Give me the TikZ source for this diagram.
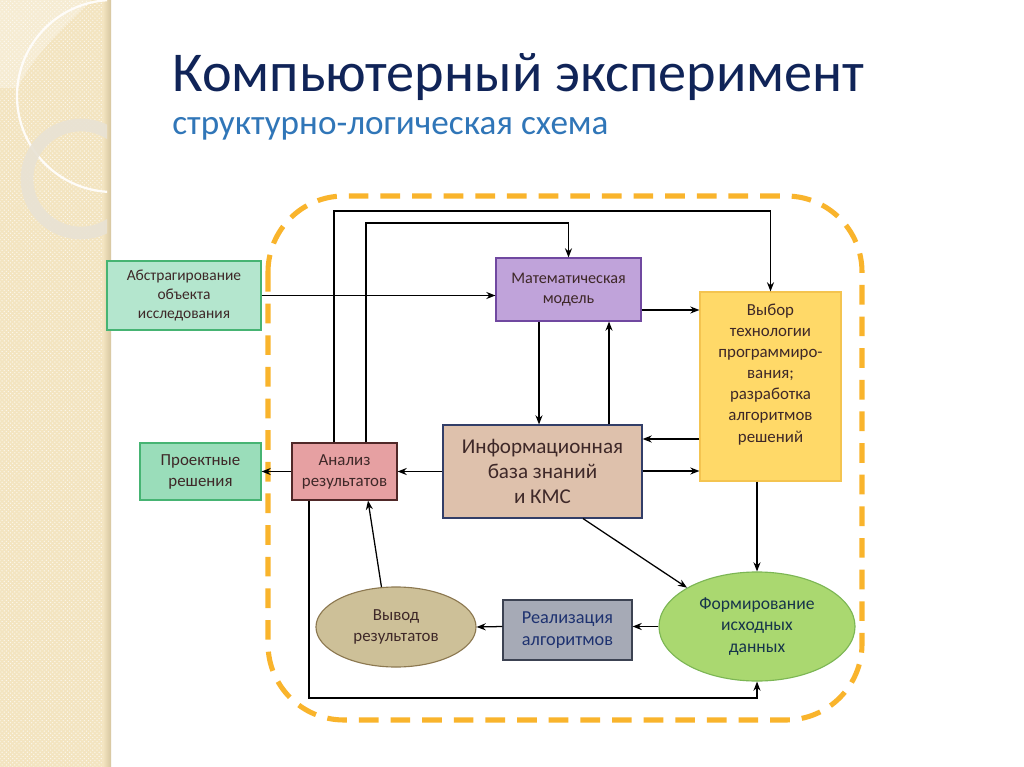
\documentclass[tikz,border=0pt]{standalone}
\usepackage{fontspec}
\setmainfont{Carlito}
\usetikzlibrary{patterns}
\usetikzlibrary{calc}
\usetikzlibrary{shapes}
\usetikzlibrary{arrows.meta}

\definecolor{strip}{RGB}{243,228,192}
\definecolor{stripdark}{RGB}{214,198,160}
\definecolor{ringgrey}{RGB}{232,226,212}
\definecolor{titleblue}{RGB}{16,36,88}
\definecolor{subblue}{RGB}{48,118,184}
\definecolor{frameorange}{RGB}{249,180,44}
\definecolor{txtdark}{RGB}{62,40,40}

\begin{document}
\begin{tikzpicture}[x=0.025cm,y=-0.025cm,>={Stealth[length=6.5pt,width=5pt]},
blokk/.style={rectangle,draw,line width=0.8pt,align=center,text=txtdark,inner sep=2pt,
 font=\fontsize{11}{13.5}\selectfont},
ovalis/.style={ellipse,draw,line width=0.8pt,align=center,text=txtdark,inner sep=1pt,
 font=\fontsize{12}{14.5}\selectfont}]
\useasboundingbox (0,0) rectangle (1024,767);
% left strip
\fill[white] (0,0) rectangle (1024,767);
\fill[strip] (0,0) rectangle (110,767);
\fill[pattern=crosshatch dots,pattern color=white!70!strip] (0,0) rectangle (106,767);
\shade[left color=strip,right color=stripdark] (103,0) rectangle (111,767);
\begin{scope}
 \clip (0,0) rectangle (107,767);
 \fill[white,opacity=.3] (0,0) -- (92,0) .. controls (60,30) and (30,60) .. (18,88) -- (0,88) -- cycle;
 \draw[white!90!strip,line width=1.6pt] (113,96) circle[radius=96];
 \draw[ringgrey,line width=9pt,opacity=.9] (81,179) circle[radius=54];
\end{scope}
% title
\node[anchor=base west,text=titleblue,font=\fontsize{40}{44}\selectfont,inner sep=0pt] (cim) at (172,92) {Компьютерный эксперимент};
\node[anchor=base west,text=subblue,font=\fontsize{25}{28}\selectfont,inner sep=0pt] (alcim) at (172,135) {структурно-логическая схема};
% frame
\draw[frameorange,line width=3.6pt,dash pattern=on 14pt off 8.5pt,rounded corners=1.9cm] (268,196) rectangle (862,720);
% blocks
\node[blokk,fill={rgb,255:red,180;green,230;blue,206},draw={rgb,255:red,70;green,180;blue,115},minimum width=3.85cm,minimum height=1.725cm] (abstr) at (184,295.5) {Абстрагирование\\объекта\\исследования};
\node[blokk,fill={rgb,255:red,192;green,163;blue,218},draw={rgb,255:red,112;green,72;blue,160},minimum width=3.625cm,minimum height=1.575cm,font=\fontsize{11.5}{14}\selectfont] (matmod) at (568.5,289.5) {Математическая\\модель};
\node[blokk,fill={rgb,255:red,255;green,217;blue,104},draw={rgb,255:red,244;green,196;blue,80},minimum width=3.525cm,minimum height=4.725cm] (vybor) at (770.5,386.5) {};
\node[align=center,text=txtdark,font=\fontsize{12}{15}\selectfont,anchor=north] (vybortxt) at (770.5,299) {Выбор\\технологии\\программиро-\\вания;\\разработка\\алгоритмов\\решений};
\node[blokk,fill={rgb,255:red,222;green,193;blue,172},draw={rgb,255:red,50;green,62;blue,104},minimum width=4.975cm,minimum height=2.325cm,font=\fontsize{15}{17.5}\selectfont] (info) at (542.5,471.5) {Информационная\\база знаний\\и КМС};
\node[blokk,fill={rgb,255:red,230;green,160;blue,162},draw={rgb,255:red,80;green,40;blue,40},minimum width=2.625cm,minimum height=1.425cm,font=\fontsize{12}{15}\selectfont] (analiz) at (344.5,471.5) {Анализ\\результатов};
\node[blokk,fill={rgb,255:red,154;green,221;blue,186},draw={rgb,255:red,70;green,180;blue,115},minimum width=3.025cm,minimum height=1.425cm,font=\fontsize{12}{15}\selectfont] (proekt) at (200.5,471.5) {Проектные\\решения};
\node[ovalis,fill={rgb,255:red,205;green,192;blue,152},draw={rgb,255:red,140;green,120;blue,80},minimum width=4cm,minimum height=2cm] (vyvod) at (396,627) {Вывод\\результатов};
\node[blokk,fill={rgb,255:red,166;green,170;blue,182},draw={rgb,255:red,60;green,66;blue,82},minimum width=3.225cm,minimum height=1.5cm,text={rgb,255:red,30;green,50;blue,112},font=\fontsize{13}{16}\selectfont] (realiz) at (567.5,630) {Реализация\\алгоритмов};
\node[ovalis,fill={rgb,255:red,170;green,216;blue,112},draw={rgb,255:red,124;green,182;blue,84},minimum width=4.9cm,minimum height=2.725cm,text={rgb,255:red,22;green,52;blue,74},font=\fontsize{12.5}{15}\selectfont] (formir) at (757,626.5) {Формирование\\исходных\\данных};
% helper points
\coordinate (kulso) at (334,211);
\coordinate (belso) at (366,223);
\coordinate (mv) at (670,310);
\coordinate (le) at (539,370);
\coordinate (fel) at (609,370);
\coordinate (vi) at (670,439);
\coordinate (iv) at (670,471);
\coordinate (vf) at (757,520);
\coordinate (id) at (583,520);
\coordinate (va) at (368,540);
\coordinate (also) at (309,698);
\begin{scope}[->,line width=0.9pt]
 \draw (abstr.east) -- (abstr.east -| matmod.west);
 \draw (kulso |- analiz.north) -- (kulso) -| (vybor.north);
 \draw (belso |- analiz.north) -- (belso) -| (matmod.north);
 \draw (matmod.east |- mv) -- (vybor.west |- mv);
 \draw (matmod.south -| le) -- (info.north -| le);
 \draw (info.north -| fel) -- (matmod.south -| fel);
 \draw (vybor.west |- vi) -- (info.east |- vi);
 \draw (info.east |- iv) -- (vybor.west |- iv);
 \draw (info.west) -- (analiz.east);
 \draw (analiz.west) -- (proekt.east);
 \draw (vybor.south -| vf) -- (formir.north);
 \draw (info.south -| id) -- (formir.151);
 \draw (formir.west) -- (formir.west -| realiz.east);
 \draw (formir.west -| realiz.west) -- (vyvod.east);
 \draw (vyvod.110) -- (analiz.south -| va);
 \draw (also |- analiz.south) -- (also) -| (formir.south);
\end{scope}
\end{tikzpicture}
\end{document}
